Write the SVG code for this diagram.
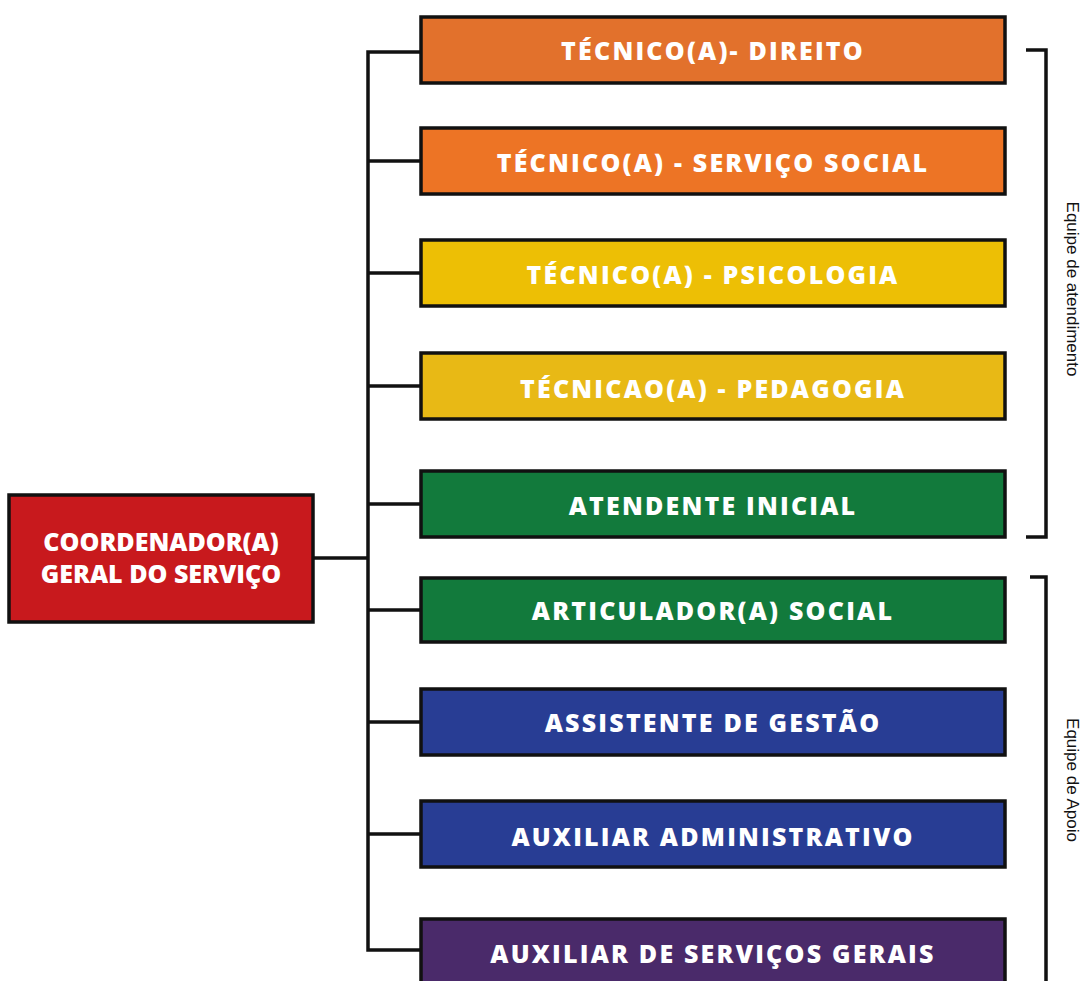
<svg xmlns="http://www.w3.org/2000/svg" width="1084" height="981" viewBox="0 0 1084 981">
<style>
.box{stroke:#111;stroke-width:3.5}
.t{font-family:"Open Sans","Liberation Sans",sans-serif;font-weight:800;font-size:25px;letter-spacing:2.2px;fill:#fff;text-anchor:middle;dominant-baseline:central}
.tc{font-family:"Open Sans","Liberation Sans",sans-serif;font-weight:800;font-size:25px;fill:#fff;text-anchor:middle;dominant-baseline:central}
.c{fill:none;stroke:#111;stroke-width:3.5}
.lbl{font-family:"Liberation Sans",Arial,sans-serif;font-size:17px;fill:#111;text-anchor:middle;dominant-baseline:central}
</style>
<rect width="1084" height="981" fill="#fff"/>
<g id="connectors">
<polyline class="c" points="420,52 368,52 368,950 420,950"/>
<line class="c" x1="313" y1="558" x2="368" y2="558"/>
<line class="c" x1="368" y1="161" x2="420" y2="161"/>
<line class="c" x1="368" y1="273" x2="420" y2="273"/>
<line class="c" x1="368" y1="386" x2="420" y2="386"/>
<line class="c" x1="368" y1="504" x2="420" y2="504"/>
<line class="c" x1="368" y1="610" x2="420" y2="610"/>
<line class="c" x1="368" y1="722" x2="420" y2="722"/>
<line class="c" x1="368" y1="834" x2="420" y2="834"/>
<polyline class="c" points="1026,50 1046,50 1046,537 1026,537"/>
<polyline class="c" points="1030,577 1046,577 1046,981"/>
</g>
<g id="coord"><rect class="box" x="9" y="495" width="304" height="127" fill="#C8191D"/><text class="tc" x="161" y="541">COORDENADOR(A)</text><text class="tc" x="161" y="573">GERAL DO SERVIÇO</text></g>
<g id="n1"><rect class="box" x="421" y="17" width="584" height="66" fill="#E2712C"/><text class="t" x="713" y="50">TÉCNICO(A)- DIREITO</text></g>
<g id="n2"><rect class="box" x="421" y="128" width="584" height="66" fill="#ED7425"/><text class="t" x="713" y="162">TÉCNICO(A) - SERVIÇO SOCIAL</text></g>
<g id="n3"><rect class="box" x="421" y="240" width="584" height="66" fill="#EDBF05"/><text class="t" x="713" y="274">TÉCNICO(A) - PSICOLOGIA</text></g>
<g id="n4"><rect class="box" x="421" y="353" width="584" height="66" fill="#E8B915"/><text class="t" x="713" y="388">TÉCNICAO(A) - PEDAGOGIA</text></g>
<g id="n5"><rect class="box" x="421" y="471" width="584" height="66" fill="#127A3C"/><text class="t" x="713" y="505">ATENDENTE INICIAL</text></g>
<g id="n6"><rect class="box" x="421" y="578" width="584" height="64" fill="#127A3C"/><text class="t" x="713" y="610">ARTICULADOR(A) SOCIAL</text></g>
<g id="n7"><rect class="box" x="421" y="689" width="584" height="66" fill="#283D94"/><text class="t" x="713" y="722">ASSISTENTE DE GESTÃO</text></g>
<g id="n8"><rect class="box" x="421" y="801" width="584" height="66" fill="#283D94"/><text class="t" x="713" y="836">AUXILIAR ADMINISTRATIVO</text></g>
<g id="n9"><rect class="box" x="421" y="919" width="584" height="70" fill="#4A2A6A"/><text class="t" x="713" y="953">AUXILIAR DE SERVIÇOS GERAIS</text></g>
<g id="labels">
<text class="lbl" transform="translate(1072,289) rotate(90)">Equipe de atendimento</text>
<text class="lbl" transform="translate(1072,780) rotate(90)">Equipe de Apoio</text>
</g>
</svg>
